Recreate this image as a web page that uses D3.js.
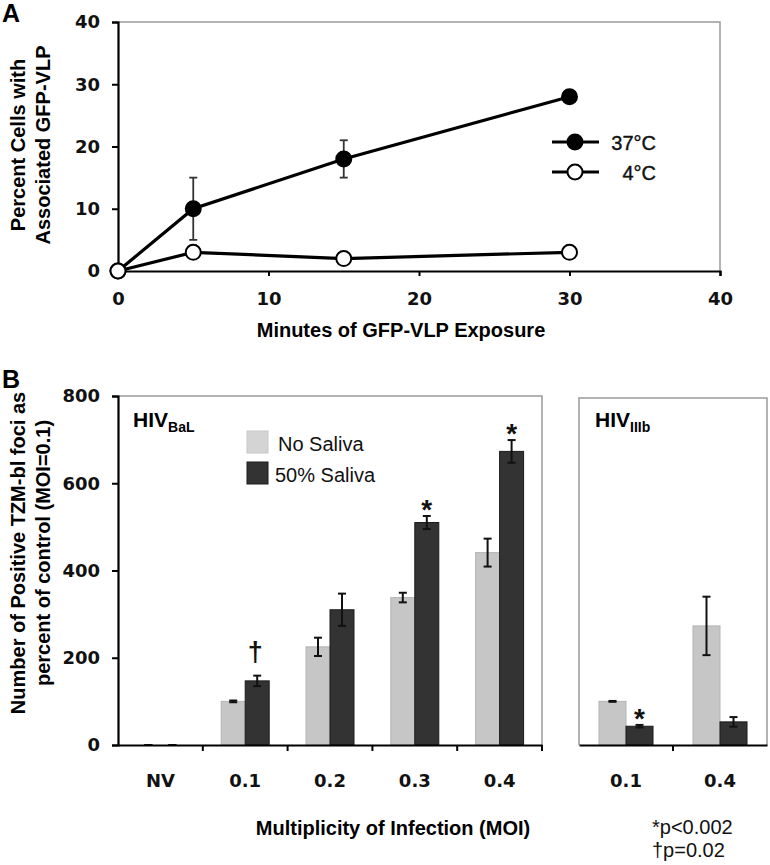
<!DOCTYPE html>
<html>
<head>
<meta charset="utf-8">
<script src="https://cdn.jsdelivr.net/npm/d3@7/dist/d3.min.js"></script>
<style>
  html, body { margin: 0; padding: 0; background: #fff; }
  svg { display: block; }
  .tick text { font-family: "DejaVu Sans", Verdana, sans-serif; font-weight: bold; font-size: 18px; fill: #111; }
</style>
</head>
<body>
<svg id="chart" width="770" height="865"></svg>
<script>
// ---------- Panel A data ----------
const timeMinutes = [0, 5, 15, 30];
const cells37 = [0, 10, 18, 28];
const cells37Err = [0, 5, 3, 0];
const cells4 = [0, 3, 2, 3];
const cells4Err = [0, 0, 0, 0];
const xTicksA = [0, 10, 20, 30, 40];
const yTicksA = [0, 10, 20, 30, 40];
const legendA = ["37°C", "4°C"];

// ---------- Panel B data ----------
const moiBaL = ["NV", "0.1", "0.2", "0.3", "0.4"];
const noSalivaBaL = [0, 100, 225, 338, 441];
const noSalivaBaLErr = [0, 2, 21, 11, 32];
const salivaBaL = [0, 147, 310, 510, 673];
const salivaBaLErr = [0, 12, 37, 15, 26];
const moiIIIb = ["0.1", "0.4"];
const noSalivaIIIb = [100, 273];
const noSalivaIIIbErr = [1, 67];
const salivaIIIb = [43, 53];
const salivaIIIbErr = [3, 11];
const yTicksB = [0, 200, 400, 600, 800];
const seriesB = ["No Saliva", "50% Saliva"];
const marksBaL = [{ cat: "0.1", s: 1, sym: "†" }, { cat: "0.3", s: 1, sym: "*" }, { cat: "0.4", s: 1, sym: "*" }];
const marksIIIb = [{ cat: "0.1", s: 1, sym: "*" }];
const footnotes = ["*p<0.002", "†p=0.02"];

const svg = d3.select("#chart");
const titleFont = "'Liberation Sans', Arial, sans-serif";
const lightFill = "#c6c6c6", lightStroke = "#b4b4b4";
const darkFill = "#333333", darkStroke = "#1c1c1c";
const frameColor = "#9a9a9a";

// ================= PANEL A =================
const xA = d3.scaleLinear().domain([0, 40]).range([118, 720]);
const yA = d3.scaleLinear().domain([0, 40]).range([271, 22]);

const gA = svg.append("g");
gA.append("path")
  .attr("d", `M${xA(0)},${yA(40)}H${xA(40)}V${yA(0)}`)
  .attr("fill", "none").attr("stroke", frameColor).attr("stroke-width", 1.5);

const axAy = gA.append("g").attr("transform", `translate(${xA(0)},0)`)
  .call(d3.axisLeft(yA).tickValues(yTicksA).tickSize(6).tickPadding(12).tickFormat(d3.format("d")));
const axAx = gA.append("g").attr("transform", `translate(0,${yA(0)})`)
  .call(d3.axisBottom(xA).tickValues(xTicksA).tickSize(5).tickPadding(16).tickFormat(d3.format("d")));
[axAy, axAx].forEach(a => {
  a.select(".domain").attr("stroke", "#000").attr("stroke-width", 2.2);
  a.selectAll(".tick line").attr("stroke", "#000").attr("stroke-width", 2);
});

function errBars(g, xs, ys, es, xScale, yScale) {
  xs.forEach((x, i) => {
    if (!es[i]) return;
    const cx = xScale(x), y1 = yScale(ys[i] + es[i]), y0 = yScale(ys[i] - es[i]);
    g.append("line").attr("x1", cx).attr("x2", cx).attr("y1", y1).attr("y2", y0)
      .attr("stroke", "#333").attr("stroke-width", 1.8);
    [y1, y0].forEach(yy => g.append("line").attr("x1", cx - 4).attr("x2", cx + 4)
      .attr("y1", yy).attr("y2", yy).attr("stroke", "#333").attr("stroke-width", 1.8));
  });
}
errBars(gA, timeMinutes, cells37, cells37Err, xA, yA);
errBars(gA, timeMinutes, cells4, cells4Err, xA, yA);

const lineA = (vals) => d3.line().x((d, i) => xA(timeMinutes[i])).y(d => yA(d))(vals);
gA.append("path").attr("d", lineA(cells4)).attr("fill", "none").attr("stroke", "#000").attr("stroke-width", 3.2);
gA.append("path").attr("d", lineA(cells37)).attr("fill", "none").attr("stroke", "#000").attr("stroke-width", 3.2);

gA.selectAll(".p4").data(cells4).join("circle")
  .attr("cx", (d, i) => xA(timeMinutes[i])).attr("cy", d => yA(d)).attr("r", 7.5)
  .attr("fill", "#fff").attr("stroke", "#000").attr("stroke-width", 2);
gA.selectAll(".p37").data(cells37).join("circle")
  .attr("cx", (d, i) => xA(timeMinutes[i])).attr("cy", d => yA(d)).attr("r", 7.5)
  .attr("fill", d => d === 0 ? "#fff" : "#000").attr("stroke", "#000").attr("stroke-width", 2);

legendA.forEach((lab, i) => {
  const ly = 142 + i * 30;
  gA.append("line").attr("x1", 552).attr("x2", 599).attr("y1", ly).attr("y2", ly)
    .attr("stroke", "#000").attr("stroke-width", 3.2);
  gA.append("circle").attr("cx", 575).attr("cy", ly).attr("r", 7.5)
    .attr("fill", i === 0 ? "#000" : "#fff").attr("stroke", "#000").attr("stroke-width", 2);
  gA.append("text").attr("x", 656).attr("y", ly + 8).attr("text-anchor", "end")
    .attr("font-family", titleFont).attr("font-size", 20).attr("fill", "#111")
    .attr("stroke", "#111").attr("stroke-width", 0.4).text(lab);
});

gA.append("text").attr("x", 401).attr("y", 337).attr("text-anchor", "middle")
  .attr("font-family", titleFont).attr("font-weight", "bold").attr("font-size", 20)
  .text("Minutes of GFP-VLP Exposure");
gA.append("text").attr("transform", "translate(25,145) rotate(-90)").attr("text-anchor", "middle")
  .attr("font-family", titleFont).attr("font-weight", "bold").attr("font-size", 20)
  .text("Percent Cells with");
gA.append("text").attr("transform", "translate(50,145) rotate(-90)").attr("text-anchor", "middle")
  .attr("font-family", titleFont).attr("font-weight", "bold").attr("font-size", 20)
  .text("Associated GFP-VLP");
svg.append("text").attr("x", 2).attr("y", 22).attr("font-family", titleFont)
  .attr("font-weight", "bold").attr("font-size", 25).text("A");

// ================= PANEL B =================
const yB = d3.scaleLinear().domain([0, 800]).range([745, 396]);

function barPanel(cats, light, lightErr, dark, darkErr, marks, range, outerPad, topY, leftAxis) {
  const g = svg.append("g");
  const x0 = d3.scaleBand().domain(cats).range(range).padding(0);
  const x1 = d3.scaleBand().domain([0, 1]).range([0, x0.bandwidth()]).paddingInner(0).paddingOuter(outerPad);
  if (leftAxis) {
    g.append("path").attr("d", `M${range[0]},${topY}H${range[1]}V${yB(0)}`)
      .attr("fill", "none").attr("stroke", frameColor).attr("stroke-width", 1.5);
  } else {
    g.append("path").attr("d", `M${range[0]},${yB(0)}V${topY}H${range[1]}V${yB(0)}`)
      .attr("fill", "none").attr("stroke", frameColor).attr("stroke-width", 1.5);
  }
  const vals = [light, dark], errs = [lightErr, darkErr];
  [0, 1].forEach(s => {
    g.selectAll(null).data(vals[s]).join("rect")
      .attr("x", (d, i) => x0(cats[i]) + x1(s))
      .attr("width", x1.bandwidth())
      .attr("y", d => yB(d)).attr("height", d => yB(0) - yB(d))
      .attr("fill", s === 0 ? lightFill : darkFill)
      .attr("stroke", s === 0 ? lightStroke : darkStroke).attr("stroke-width", 1);
  });
  [0, 1].forEach(s => {
    vals[s].forEach((v, i) => {
      const cx = x0(cats[i]) + x1(s) + x1.bandwidth() / 2;
      const e = errs[s][i];
      const yt = yB(v + e), yb = yB(Math.max(0, v - e));
      g.append("line").attr("x1", cx).attr("x2", cx).attr("y1", yt).attr("y2", yb)
        .attr("stroke", "#111").attr("stroke-width", 2);
      [yt, yb].forEach(yy => g.append("line").attr("x1", cx - 4).attr("x2", cx + 4)
        .attr("y1", yy).attr("y2", yy).attr("stroke", "#111").attr("stroke-width", 2));
    });
  });
  marks.forEach(m => {
    const i = cats.indexOf(m.cat);
    const v = vals[m.s][i], e = errs[m.s][i];
    const cx = x0(m.cat) + x1(m.s) + x1.bandwidth() / 2;
    const top = yB(v + e);
    if (m.sym === "*") {
      g.append("text").attr("x", cx).attr("y", top + 3).attr("text-anchor", "middle")
        .attr("font-family", titleFont).attr("font-weight", "bold").attr("font-size", 28)
        .attr("fill", "#111").text("*");
    } else {
      g.append("text").attr("x", cx - 2).attr("y", top - 15).attr("text-anchor", "middle")
        .attr("font-family", titleFont).attr("font-weight", "bold").attr("font-size", 27)
        .attr("fill", "#111").text(m.sym);
    }
  });
  const ax = g.append("g").attr("transform", `translate(0,${yB(0)})`)
    .call(d3.axisBottom(x0).tickSize(0).tickPadding(29));
  ax.select(".domain").attr("stroke", "#000").attr("stroke-width", 2.2);
  const bounds = cats.map(c => x0(c)).concat([range[1]]);
  g.selectAll(null).data(bounds.slice(1, bounds.length - (leftAxis ? 0 : 1))).join("line")
    .attr("x1", d => d).attr("x2", d => d).attr("y1", yB(0)).attr("y2", yB(0) + 6)
    .attr("stroke", "#000").attr("stroke-width", 2);
  if (leftAxis) {
    const ay = g.append("g").attr("transform", `translate(${range[0]},0)`)
      .call(d3.axisLeft(yB).tickValues(yTicksB).tickSize(6).tickPadding(12));
    ay.select(".domain").attr("stroke", "#000").attr("stroke-width", 2.2);
    ay.selectAll(".tick line").attr("stroke", "#000").attr("stroke-width", 2);
  }
  return { g, x0, x1 };
}

barPanel(moiBaL, noSalivaBaL, noSalivaBaLErr, salivaBaL, salivaBaLErr, marksBaL, [118, 542], 0.767, 396, true);
barPanel(moiIIIb, noSalivaIIIb, noSalivaIIIbErr, salivaIIIb, salivaIIIbErr, marksIIIb, [579, 767], 0.74, 398, false);

function hivLabel(x, sub) {
  const t = svg.append("text").attr("x", x).attr("y", 427).attr("font-family", titleFont)
    .attr("font-weight", "bold").attr("font-size", 21).attr("fill", "#000");
  t.append("tspan").text("HIV");
  t.append("tspan").attr("font-size", 14).attr("dy", 5).text(sub);
}
hivLabel(133, "BaL");
hivLabel(595, "IIIb");

seriesB.forEach((lab, i) => {
  const ly = 431 + i * 31;
  svg.append("rect").attr("x", 247).attr("y", ly).attr("width", 21).attr("height", 22)
    .attr("fill", i === 0 ? "#d4d4d4" : darkFill).attr("stroke", i === 0 ? "#c8c8c8" : darkStroke);
  svg.append("text").attr("x", i === 0 ? 278 : 275).attr("y", ly + 20)
    .attr("font-family", titleFont).attr("font-size", 20).attr("fill", "#111").text(lab);
});

svg.append("text").attr("x", 393).attr("y", 835).attr("text-anchor", "middle")
  .attr("font-family", titleFont).attr("font-weight", "bold").attr("font-size", 20)
  .text("Multiplicity of Infection (MOI)");
svg.append("text").attr("transform", "translate(25,553) rotate(-90)").attr("text-anchor", "middle")
  .attr("font-family", titleFont).attr("font-weight", "bold").attr("font-size", 20)
  .text("Number of Positive TZM-bl foci as");
svg.append("text").attr("transform", "translate(50,553) rotate(-90)").attr("text-anchor", "middle")
  .attr("font-family", titleFont).attr("font-weight", "bold").attr("font-size", 20)
  .text("percent of control (MOI=0.1)");
svg.append("text").attr("x", 2).attr("y", 388).attr("font-family", titleFont)
  .attr("font-weight", "bold").attr("font-size", 25).text("B");

footnotes.forEach((f, i) => {
  svg.append("text").attr("x", 652).attr("y", 834 + i * 23)
    .attr("font-family", titleFont).attr("font-size", 20).attr("fill", "#111").text(f);
});
</script>
</body>
</html>
